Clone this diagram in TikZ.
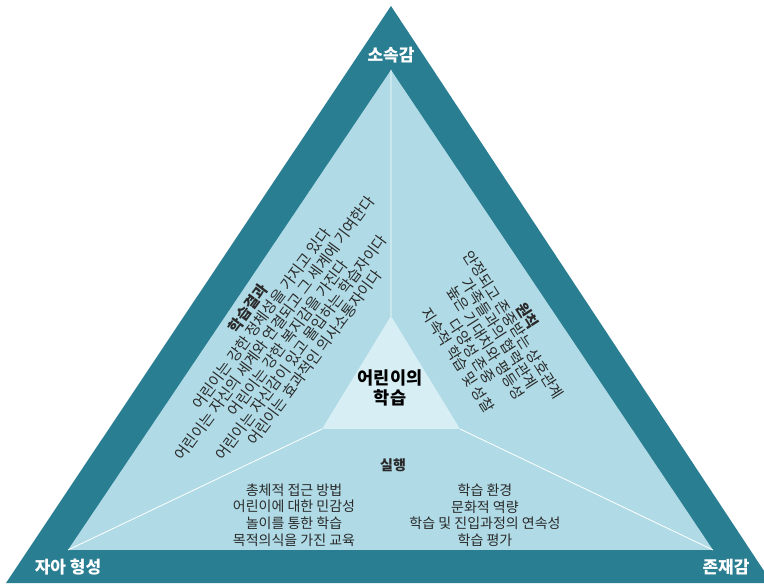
\documentclass[tikz,border=0pt]{standalone}
\usepackage{fontspec}
\newfontfamily\kr{Noto Sans CJK KR}
\definecolor{darkband}{HTML}{2A7E92}
\definecolor{lightarea}{HTML}{B0DBE6}
\definecolor{corearea}{HTML}{D7EEF4}
\definecolor{bodytext}{HTML}{2A2A2A}
\begin{document}
\begin{tikzpicture}[x=1pt,y=-1pt,
  corner/.style={text=white,font=\kr\bfseries\fontsize{17}{20}\selectfont,inner sep=0pt},
  body/.style={text=bodytext,align=center,inner sep=0pt,font=\kr\fontsize{14}{16.5}\selectfont},
  slanted/.style={body,font=\kr\fontsize{15}{16.5}\selectfont},
  divider/.style={draw=white,line width=0.8pt}]
\useasboundingbox (0,0) rectangle (764,585);
\coordinate (A) at (391,6);
\coordinate (B) at (6,583);
\coordinate (C) at (772,583);
\fill[darkband] (A)--(B)--(C)--cycle;
\coordinate (a) at (391,70);
\coordinate (b) at (68,550);
\coordinate (c) at (713,550);
\fill[lightarea] (a)--(b)--(c)--cycle;
\coordinate (p) at (391,316);
\coordinate (q) at (322,429);
\coordinate (r) at (460,429);
\fill[corearea] (p)--(q)--(r)--cycle;
\draw[divider] (p)--(a) (q)--(b) (r)--(c);
\node[corner] (top) at (391,55) {소속감};
\node[corner] (left) at (68,567) {자아 형성};
\node[corner] (right) at (726,567) {존재감};
\node[align=center,inner sep=0pt,font=\kr\bfseries\fontsize{17.5}{20}\selectfont] (core) at (390,388) {어린이의\\학습};
\node[body,font=\kr\bfseries\fontsize{14}{16}\selectfont] (impl) at (393,465) {실행};
\node[body] (practL) at (294,515) {총체적 접근 방법\\어린이에 대한 민감성\\놀이를 통한 학습\\목적의식을 가진 교육};
\node[body] (practR) at (485,515) {학습 환경\\문화적 역량\\학습 및 진입과정의 연속성\\학습 평가};
\node[slanted,rotate=53.5] (outcomes) at (281,333) {\textbf{학습결과}\\어린이는 강한 정체성을 가지고 있다\\어린이는 자신의 세계와 연결되고 그 세계에 기여한다\\어린이는 강한 복지감을 가진다\\어린이는 자신감이 있고 몰입하는 학습자이다\\어린이는 효과적인 의사소통자이다};
\node[slanted,rotate=-57.5] (principles) at (493,338) {\textbf{원칙}\\안정되고 존중받는 상호관계\\가족들과의 협력관계\\높은 기대치와 평등성\\다양성 존중\\지속적 학습 및 성찰};
\end{tikzpicture}
\end{document}
